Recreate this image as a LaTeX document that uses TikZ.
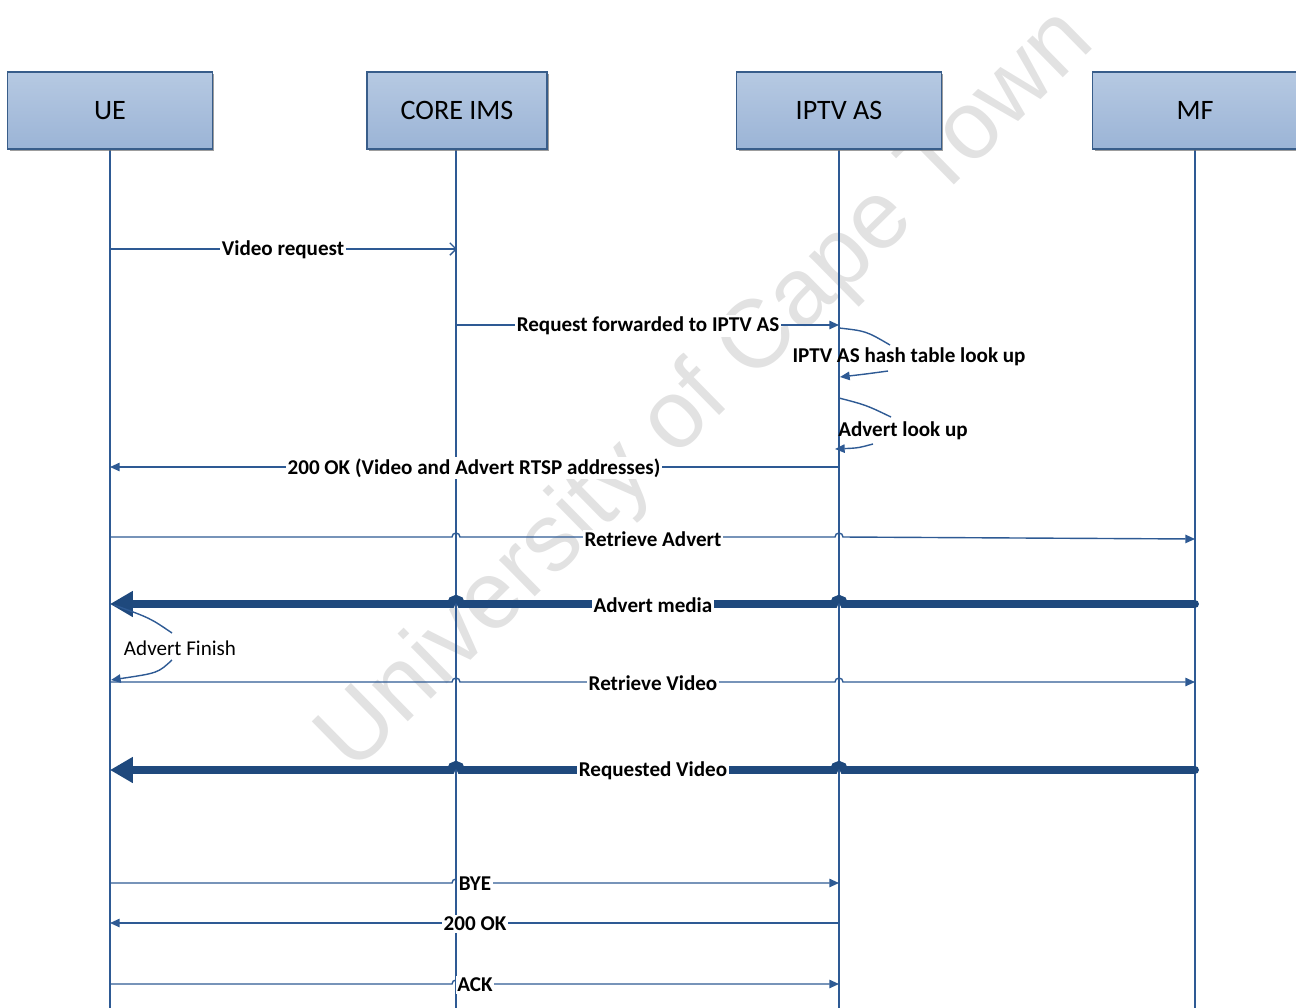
\documentclass[tikz,border=0pt]{standalone}
\usepackage{fontspec}
\setmainfont{Carlito}
\newfontfamily\markfont{Liberation Sans}
\usetikzlibrary{arrows.meta,shadows}
\definecolor{flowblue}{HTML}{2E5A94}
\definecolor{mediablue}{HTML}{1F497D}
\definecolor{boxedge}{HTML}{385D8A}
\definecolor{boxtop}{HTML}{B6C9E2}
\definecolor{boxbot}{HTML}{9BB4D6}
\definecolor{markgray}{HTML}{E2E2E2}
\begin{document}
\begin{tikzpicture}[x=0.02cm, y=-0.02cm,
    actor/.style={draw=boxedge, line width=0.8pt, top color=boxtop, bottom color=boxbot,
        minimum width=4.1cm, minimum height=1.54cm, font=\fontsize{16}{18}\selectfont,
        drop shadow={shadow xshift=0.04cm, shadow yshift=-0.04cm, fill=black!55, opacity=0.7}},
    life/.style={draw=flowblue, line width=0.8pt},
    msg/.style={draw=flowblue, line width=0.8pt, -{Triangle[length=5.5pt,width=4.8pt]}},
    plain/.style={draw=flowblue, line width=0.8pt},
    media/.style={draw=mediablue, line width=4.5pt, line cap=round, -{Triangle[length=13pt,width=14pt]}},
    lbl/.style={fill=white, inner sep=1pt, font=\fontsize{12}{14}\selectfont\bfseries},
    note/.style={inner sep=1pt, font=\fontsize{12}{14}\selectfont\bfseries}]
    \useasboundingbox (0,0) rectangle (1296,1008);
    \clip (0,0) rectangle (1296,1008);

    % watermark
    \node[rotate=44.5, text=markgray, font=\markfont\fontsize{55}{60}\selectfont] (mark) at (708,392) {University of Cape Town};

    % lifelines
    \draw[life] (110,149) -- (110,1008);
    \draw[life] (456,149) -- (456,1008);
    \draw[life] (839,149) -- (839,1008);
    \draw[life] (1195,149) -- (1195,1008);

    % actors
    \node[actor] (ue) at (110,110.5) {UE};
    \node[actor, minimum width=3.6cm] (ims) at (457,110.5) {CORE IMS};
    \node[actor] (iptv) at (839,110.5) {IPTV AS};
    \node[actor] (mf) at (1195,110.5) {MF};

    % session set-up
    \draw[plain, -{Straight Barb[length=3.5pt,width=7pt]}] (ue |- 0,249) -- (ims |- 0,249);
    \node[lbl] (vreq) at (283,250) {Video request};
    \draw[msg] (ims |- 0,325) -- (iptv |- 0,325);
    \node[lbl] (fwd) at (648,326) {Request forwarded to IPTV AS};

    % look ups at the IPTV AS
    \node[note] (hash) at (909,357) {IPTV AS hash table look up};
    \coordinate (h1) at (839,328);
    \coordinate (h2) at (890,345);
    \coordinate (h3) at (888,371);
    \coordinate (h4) at (840,377);
    \draw[plain] (h1) .. controls (866,331) .. (h2);
    \draw[msg] (h3) .. controls (866,374) .. (h4);
    \node[note] (adlook) at (903,431) {Advert look up};
    \coordinate (a1) at (839,398);
    \coordinate (a2) at (891,417);
    \coordinate (a3) at (873,444);
    \coordinate (a4) at (835,449);
    \draw[plain] (a1) .. controls (866,405) .. (a2);
    \draw[msg] (a3) .. controls (858,448) .. (a4);

    \draw[msg] (iptv |- 0,467) -- (ue |- 0,467);
    \node[lbl] (ok1) at (474,468) {200 OK (Video and Advert RTSP addresses)};

    % advert
    \draw[msg] (ue |- 0,537) -- (452,537) arc[start angle=180, end angle=360, radius=4]
        -- (835,537) arc[start angle=180, end angle=360, radius=4] -- (mf |- 0,539);
    \node[lbl] (radv) at (653,539) {Retrieve Advert};
    \draw[media] (mf |- 0,604) -- (844,604) arc[start angle=0, end angle=-180, radius=5]
        -- (461,604) arc[start angle=0, end angle=-180, radius=5] -- (ue |- 0,604);
    \node[lbl] (admedia) at (653,605) {Advert media};

    % advert finish
    \node[inner sep=1pt, font=\fontsize{12}{14}\selectfont] (fin) at (180,648) {Advert Finish};
    \coordinate (f1) at (172,633);
    \coordinate (f2) at (114,605);
    \coordinate (f3) at (172,660);
    \coordinate (f4) at (111,680);
    \draw[plain] (f1) .. controls (150,618) .. (f2);
    \draw[msg] (f3) .. controls (158,673) .. (f4);

    % video
    \draw[msg] (ue |- 0,682) -- (452,682) arc[start angle=180, end angle=360, radius=4]
        -- (835,682) arc[start angle=180, end angle=360, radius=4] -- (mf |- 0,682);
    \node[lbl] (rvid) at (653,683) {Retrieve Video};
    \draw[media] (mf |- 0,770) -- (844,770) arc[start angle=0, end angle=-180, radius=5]
        -- (461,770) arc[start angle=0, end angle=-180, radius=5] -- (ue |- 0,770);
    \node[lbl] (reqvid) at (653,771) {Requested Video};

    % tear down
    \draw[msg] (ue |- 0,883) -- (452,883) arc[start angle=180, end angle=360, radius=4] -- (iptv |- 0,883);
    \node[lbl] (bye) at (475,884) {BYE};
    \draw[msg] (iptv |- 0,923) -- (ue |- 0,923);
    \node[lbl] (ok2) at (475,924) {200 OK};
    \draw[msg] (ue |- 0,984) -- (452,984) arc[start angle=180, end angle=360, radius=4] -- (iptv |- 0,984);
    \node[lbl] (ack) at (475,985) {ACK};
\end{tikzpicture}
\end{document}
